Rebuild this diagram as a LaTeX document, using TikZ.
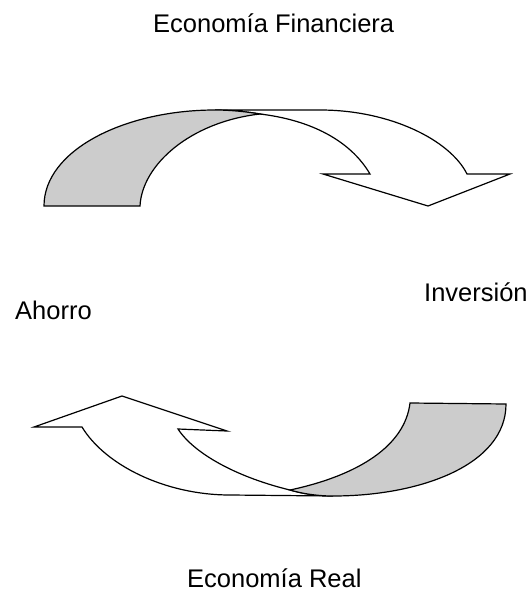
\documentclass[tikz,border=0pt]{standalone}
\usepackage{fontspec}
\setmainfont{Liberation Sans}
\definecolor{ribbongray}{HTML}{CCCCCC}
\begin{document}
\begin{tikzpicture}[x=1pt,y=-1pt,
  ribbon/.style={draw=black,line width=1.2pt,line join=miter},
  lbl/.style={inner sep=0pt,anchor=base west,font=\fontsize{25.5}{30}\selectfont}]
\useasboundingbox (0,0) rectangle (530,591);
% labels
\node[lbl] (fin) at (153,33) {Economía Financiera};
\node[lbl] (aho) at (15,319) {Ahorro};
\node[lbl] (inv) at (424,301) {Inversión};
\node[lbl] (real) at (187,587) {Economía Real};
% top curved arrow: white front part
\draw[ribbon,fill=white] (215,110) -- (320,110)
  .. controls (390,110) and (450,140) .. (467,174)
  -- (510,174) -- (428,206) -- (323,174) -- (370,174)
  .. controls (350,140) and (310,120) .. (260,114)
  .. controls (248,112) and (232,110) .. (215,110) -- cycle;
% top curved arrow: gray back part
\draw[ribbon,fill=ribbongray] (44,206)
  .. controls (44,150) and (125,110) .. (215,110)
  .. controls (232,110) and (248,112) .. (260,114)
  .. controls (190,122) and (142,165) .. (140,206) -- cycle;
% bottom curved arrow: white front part
\draw[ribbon,fill=white] (230,495) -- (333,496)
  .. controls (315,496) and (300,493) .. (290,490)
  .. controls (240,478) and (195,455) .. (178,429)
  -- (227,431) -- (122,396) -- (34,427) -- (82,427)
  .. controls (105,465) and (165,495) .. (230,495) -- cycle;
% bottom curved arrow: gray back part
\draw[ribbon,fill=ribbongray] (410,403) -- (506,404)
  .. controls (506,465) and (420,496) .. (333,496)
  .. controls (315,496) and (300,493) .. (290,490)
  .. controls (360,475) and (405,445) .. (410,403) -- cycle;
\end{tikzpicture}
\end{document}
